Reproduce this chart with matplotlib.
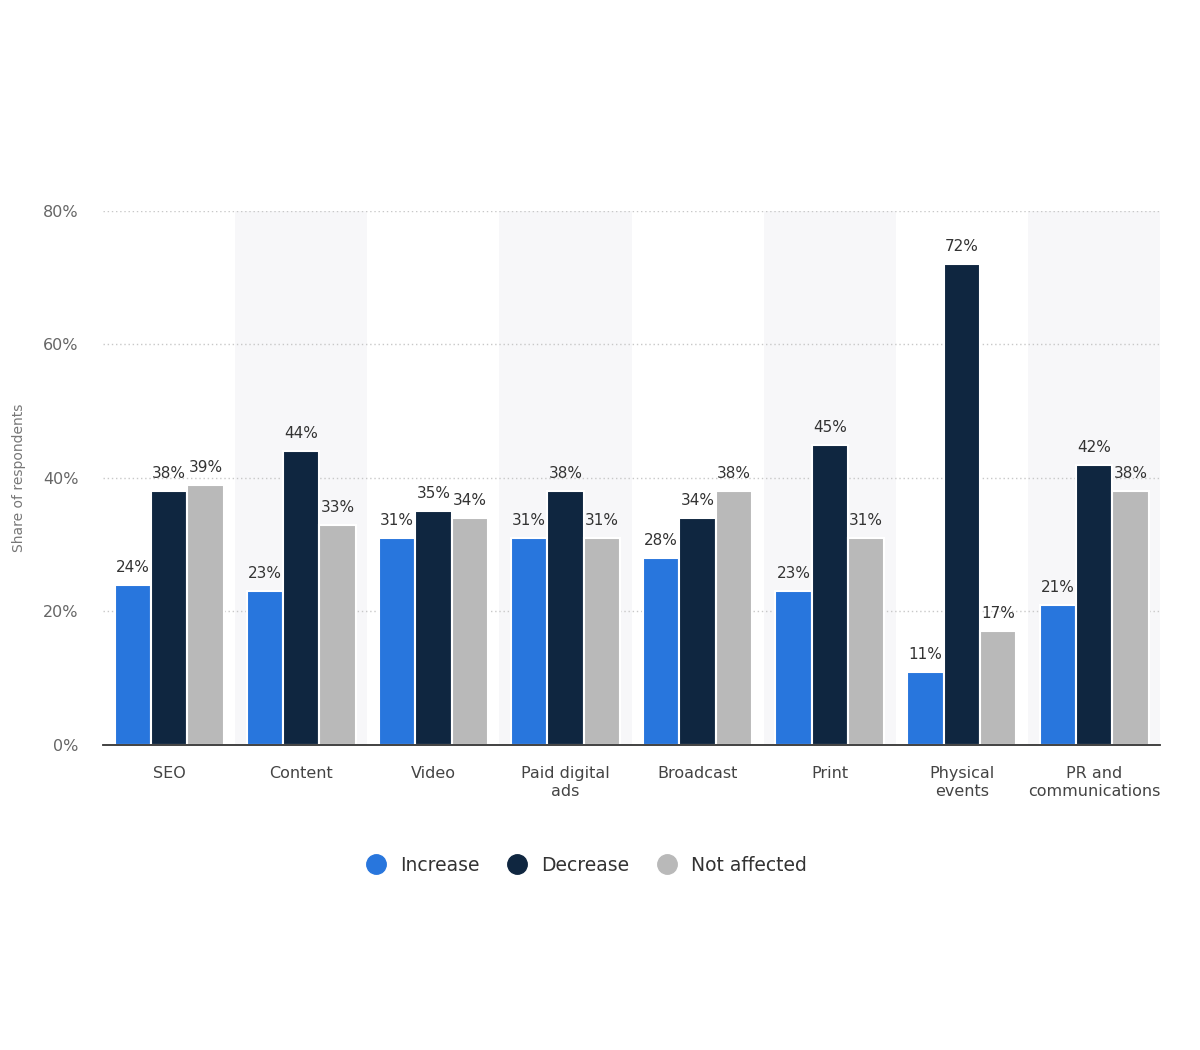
import numpy as np
import matplotlib.pyplot as plt
from matplotlib.lines import Line2D

categories = ['SEO', 'Content', 'Video', 'Paid digital\nads', 'Broadcast',
              'Print', 'Physical\nevents', 'PR and\ncommunications']
increase = [24, 23, 31, 31, 28, 23, 11, 21]
decrease = [38, 44, 35, 38, 34, 45, 72, 42]
not_affected = [39, 33, 34, 31, 38, 31, 17, 38]
series_names = ['Increase', 'Decrease', 'Not affected']
colors = ['#2876dd', '#0f2640', '#b9b9b9']
yticks = [0, 20, 40, 60, 80]

fig = plt.figure(figsize=(12, 10.5), dpi=100)
ax = fig.add_axes([0.0858, 0.2905, 0.881, 0.5086])

x = np.arange(len(categories))
w = 0.275
# alternating light bands behind every second category
for i in range(1, len(categories), 2):
    ax.axvspan(i - 0.5, i + 0.5, color='#f7f7f9', zorder=0, lw=0)

for k, vals in enumerate([increase, decrease, not_affected]):
    pos = x + (k - 1) * w
    ax.bar(pos, vals, width=w, color=colors[k], edgecolor='white', linewidth=1.5, zorder=3)
    for p, v in zip(pos, vals):
        ax.text(p, v + 1.5, f'{v}%', ha='center', va='bottom', fontsize=11,
                color='#333333', zorder=4)

ax.set_xlim(-0.5, len(categories) - 0.5)
ax.set_ylim(0, 80)
ax.set_yticks(yticks)
ax.set_yticklabels([f'{t}%' for t in yticks])
ax.set_xticks(x)
ax.set_xticklabels(categories, fontsize=11.5, color='#444444', linespacing=1.25)
ax.tick_params(axis='y', length=0, pad=17.5, labelsize=11.5, labelcolor='#666666')
ax.tick_params(axis='x', length=0, pad=15)
for t in yticks[1:]:
    ax.axhline(t, color='#c8c8c8', lw=1, ls=(0, (1, 2)), zorder=1)
for s in ['top', 'right', 'left']:
    ax.spines[s].set_visible(False)
ax.spines['bottom'].set_color('#333333')
ax.spines['bottom'].set_linewidth(1.3)
ax.spines['bottom'].set_zorder(5)
ax.set_ylabel('Share of respondents', fontsize=10, color='#777777')
ax.yaxis.set_label_coords(-0.073, 0.5)

handles = [Line2D([], [], marker='o', ls='', markersize=14, color=c) for c in colors]
fig.legend(handles, series_names, loc='center', bbox_to_anchor=(0.485, 0.176), ncol=3,
           frameon=False, fontsize=13.5, handletextpad=0.3, columnspacing=1.0,
           labelcolor='#333333')

fig.savefig('out.png', dpi=100, facecolor='white')
